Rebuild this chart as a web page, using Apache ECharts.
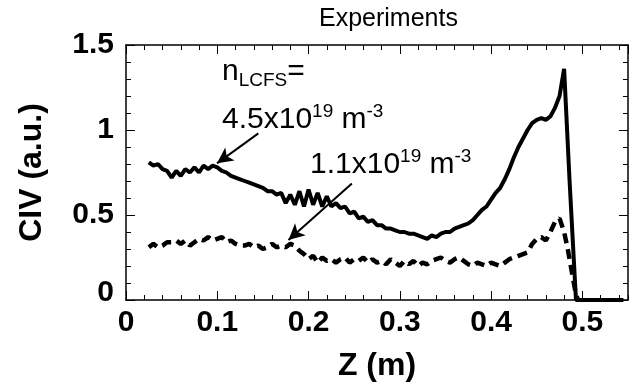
<!DOCTYPE html>
<html>
<head>
<meta charset="utf-8">
<script src="https://cdn.jsdelivr.net/npm/echarts@6/dist/echarts.min.js"></script>
<style>
html,body{margin:0;padding:0;background:#fff;}
#wrap{position:relative;width:633px;height:389px;}
#c,#f,#o{position:absolute;left:0;top:0;width:633px;height:389px;}
#d{position:absolute;left:0;top:0;font:10px monospace;color:red;width:633px;white-space:pre-wrap}
</style>
</head>
<body>
<div id="wrap"><div id="c"></div><div id="f"></div><div id="o"></div></div>
<div id="d"></div>
<script>
// ---- data ----
const zSolid = [0.025,0.03,0.035,0.04,0.045,0.05,0.055,0.06,0.065,0.07,0.075,0.08,0.085,0.09,0.095,0.10,0.105,0.11,0.115,0.12,0.125,0.13,0.135,0.14,0.145,0.15,0.155,0.16,0.165,0.17,0.175,0.18,0.185,0.19,0.195,0.20,0.205,0.21,0.215,0.22,0.225,0.23,0.235,0.24,0.245,0.25,0.255,0.26,0.265,0.27,0.275,0.28,0.285,0.29,0.295,0.30,0.305,0.31,0.315,0.32,0.325,0.33,0.335,0.34,0.345,0.35,0.355,0.36,0.365,0.37,0.375,0.38,0.385,0.39,0.395,0.40,0.405,0.41,0.415,0.42,0.425,0.43,0.435,0.44,0.445,0.45,0.455,0.46,0.465,0.47,0.475,0.48,0.486,0.49,0.493,0.50,0.52,0.545];
const civSolid = [0.81,0.79,0.80,0.77,0.76,0.72,0.76,0.73,0.77,0.75,0.78,0.75,0.79,0.77,0.79,0.78,0.76,0.75,0.73,0.72,0.71,0.70,0.69,0.68,0.67,0.66,0.64,0.64,0.62,0.63,0.57,0.62,0.56,0.64,0.55,0.65,0.56,0.63,0.55,0.61,0.55,0.57,0.54,0.55,0.51,0.52,0.48,0.49,0.46,0.47,0.44,0.44,0.42,0.42,0.41,0.40,0.40,0.39,0.39,0.38,0.37,0.36,0.38,0.37,0.39,0.40,0.40,0.42,0.43,0.44,0.45,0.47,0.50,0.53,0.55,0.59,0.63,0.66,0.71,0.77,0.84,0.90,0.95,1.00,1.04,1.06,1.07,1.06,1.08,1.13,1.20,1.36,0.70,0.30,0.0,0.0,0.0,0.0];
const zDashed = [0.025,0.03,0.035,0.04,0.045,0.05,0.055,0.06,0.065,0.07,0.075,0.08,0.085,0.09,0.095,0.10,0.105,0.11,0.115,0.12,0.125,0.13,0.135,0.14,0.145,0.15,0.155,0.16,0.165,0.17,0.175,0.18,0.185,0.19,0.195,0.20,0.205,0.21,0.215,0.22,0.225,0.23,0.235,0.24,0.245,0.25,0.255,0.26,0.265,0.27,0.275,0.28,0.285,0.29,0.295,0.30,0.305,0.31,0.315,0.32,0.325,0.33,0.335,0.34,0.345,0.35,0.355,0.36,0.365,0.37,0.375,0.38,0.385,0.39,0.395,0.40,0.405,0.41,0.415,0.42,0.425,0.43,0.435,0.44,0.445,0.45,0.455,0.46,0.465,0.47,0.475,0.48,0.484,0.488,0.492,0.495];
const civDashed = [0.31,0.33,0.31,0.32,0.34,0.34,0.35,0.33,0.35,0.32,0.34,0.36,0.35,0.37,0.35,0.36,0.37,0.34,0.35,0.33,0.32,0.32,0.33,0.31,0.32,0.30,0.31,0.33,0.31,0.32,0.31,0.33,0.32,0.29,0.27,0.24,0.26,0.22,0.25,0.23,0.24,0.22,0.24,0.25,0.22,0.24,0.23,0.25,0.22,0.24,0.22,0.23,0.21,0.24,0.22,0.20,0.23,0.21,0.23,0.20,0.22,0.21,0.23,0.24,0.25,0.23,0.22,0.24,0.25,0.23,0.21,0.20,0.22,0.21,0.20,0.22,0.21,0.20,0.22,0.24,0.25,0.26,0.27,0.28,0.33,0.36,0.37,0.35,0.40,0.46,0.48,0.40,0.30,0.18,0.06,0.0];
const xTicks = [0, 0.1, 0.2, 0.3, 0.4, 0.5];
const yTicks = [0, 0.5, 1, 1.5];
const arrowFrom = [[0.145, 0.98], [0.2475, 0.686]];
const arrowTo = [[0.0997, 0.804], [0.178, 0.353]];

const log = s => { document.getElementById('d').textContent += s + '\n'; };
const FONT = '"Liberation Sans", Arial, sans-serif';
const GRID = {left: 126, right: 5, top: 45, bottom: 89, containLabel: false};
const lineBlack = {color: '#000', width: 1.5};
function pairs(xs, ys) { return xs.map((x, i) => [x, ys[i]]); }
function xAx(pos, major, extra) {
  return Object.assign({
    type: 'value', gridIndex: 0, position: pos, min: 0, max: 0.55,
    interval: major ? 0.1 : 0.02,
    axisLine: {show: major, onZero: false, lineStyle: lineBlack},
    axisTick: {show: true, inside: true, length: major ? 9 : 5, lineStyle: {color: '#000', width: 1}},
    axisLabel: {show: false},
    splitLine: {show: false}
  }, extra || {});
}
function yAx(pos, major, extra) {
  return Object.assign({
    type: 'value', gridIndex: 0, position: pos, min: 0, max: 1.5,
    interval: major ? 0.5 : 0.1,
    axisLine: {show: major, onZero: false, lineStyle: lineBlack},
    axisTick: {show: true, inside: true, length: major ? 9 : 5, lineStyle: {color: '#000', width: 1}},
    axisLabel: {show: false},
    splitLine: {show: false}
  }, extra || {});
}
const labelStyle = {fontFamily: FONT, fontSize: 30, fontWeight: 'bold', color: '#000'};

// ---- layer 1: data lines on hidden axes ----
try {
const dc = echarts.init(document.getElementById('c'));
dc.setOption({
  animation: false,
  grid: GRID,
  xAxis: {type: 'value', min: 0, max: 0.55, show: false},
  yAxis: {type: 'value', min: 0, max: 1.5, show: false},
  series: [
    {name: 'n11', type: 'line', data: pairs(zDashed, civDashed),
     showSymbol: false, lineStyle: {color: '#000', width: 4.5, type: [10, 6]}},
    {name: 'n45', type: 'line', data: pairs(zSolid, civSolid),
     showSymbol: false, lineStyle: {color: '#000', width: 4, type: 'solid'}}
  ]
});
} catch (e) { log('data ' + e.message); }

// ---- layer 2: frame, ticks, tick labels and axis names ----
try {
const fc = echarts.init(document.getElementById('f'));
fc.setOption({
  animation: false,
  grid: GRID,
  xAxis: [
    xAx('bottom', true, {
      axisLabel: Object.assign({show: true, margin: 8, showMaxLabel: false,
        formatter: v => xTicks.some(t => Math.abs(t - v) < 1e-6) ? String(Math.round(v * 10) / 10) : ''}, labelStyle),
      name: 'Z (m)', nameLocation: 'middle', nameGap: 50,
      nameTextStyle: {fontFamily: FONT, fontSize: 32, fontWeight: 'bold', color: '#000'}
    }),
    xAx('bottom', false), xAx('top', true), xAx('top', false)
  ],
  yAxis: [
    yAx('left', true, {
      axisLabel: Object.assign({show: true, margin: 12,
        formatter: v => { if (!yTicks.some(t => Math.abs(t - v) < 1e-6)) return ''; return v === 0 ? '{z|0}' : String(v); },
        rich: {z: {fontFamily: FONT, fontSize: 30, fontWeight: 'bold', color: '#000', padding: [0, 0, 14, 0]}}
      }, labelStyle),
      name: 'CIV (a.u.)', nameLocation: 'middle', nameGap: 78,
      nameTextStyle: {fontFamily: FONT, fontSize: 32, fontWeight: 'bold', color: '#000'}
    }),
    yAx('left', false), yAx('right', true), yAx('right', false)
  ],
  series: [{type: 'line', data: [[0.1, 0.5], [0.3, 1]], lineStyle: {color: '#000', width: 4, opacity: 0}, showSymbol: false, silent: true}]
});
} catch (e) { log('frame ' + e.message); }

// ---- layer 3: title, annotation text and arrows on the same scales ----
try {
const ov = echarts.init(document.getElementById('o'));
const tok = (size, va) => ({fontFamily: FONT, fontSize: size, lineHeight: size === 30 ? 36 : 19, verticalAlign: va, color: '#000'});
const rich = {m: tok(30, 'middle'), s: tok(19, 'bottom'), p: tok(19, 'top')};
ov.setOption({
  animation: false,
  title: {text: 'Experiments', left: 314, top: 2,
    textStyle: {fontFamily: FONT, fontSize: 25, fontWeight: 'normal', color: '#000'}},
  grid: GRID,
  xAxis: {type: 'value', min: 0, max: 0.55, show: false},
  yAxis: {type: 'value', min: 0, max: 1.5, show: false},
  series: [{
    type: 'line', data: pairs(zSolid, civSolid), showSymbol: false,
    lineStyle: {opacity: 0, width: 0}, silent: true,
    markLine: {
      silent: true, symbol: ['none', 'arrow'], symbolSize: [12, 16],
      lineStyle: {color: '#000', width: 2, type: 'solid'}, label: {show: false},
      data: arrowFrom.map((f, i) => [{coord: f}, {coord: arrowTo[i]}])
    }
  }],
  graphic: [
    {type: 'text', left: 222, top: 57, style: {text: '{m|n}{s|LCFS}{m|=}', rich: rich, fill: '#000'}},
    {type: 'text', left: 222, top: 102, style: {text: '{m|4.5x10}{p|19}{m| m}{p|-3}', rich: rich, fill: '#000'}},
    {type: 'text', left: 310, top: 147, style: {text: '{m|1.1x10}{p|19}{m| m}{p|-3}', rich: rich, fill: '#000'}}
  ]
});
} catch (e) { log('overlay ' + e.message); }
</script>
</body>
</html>
